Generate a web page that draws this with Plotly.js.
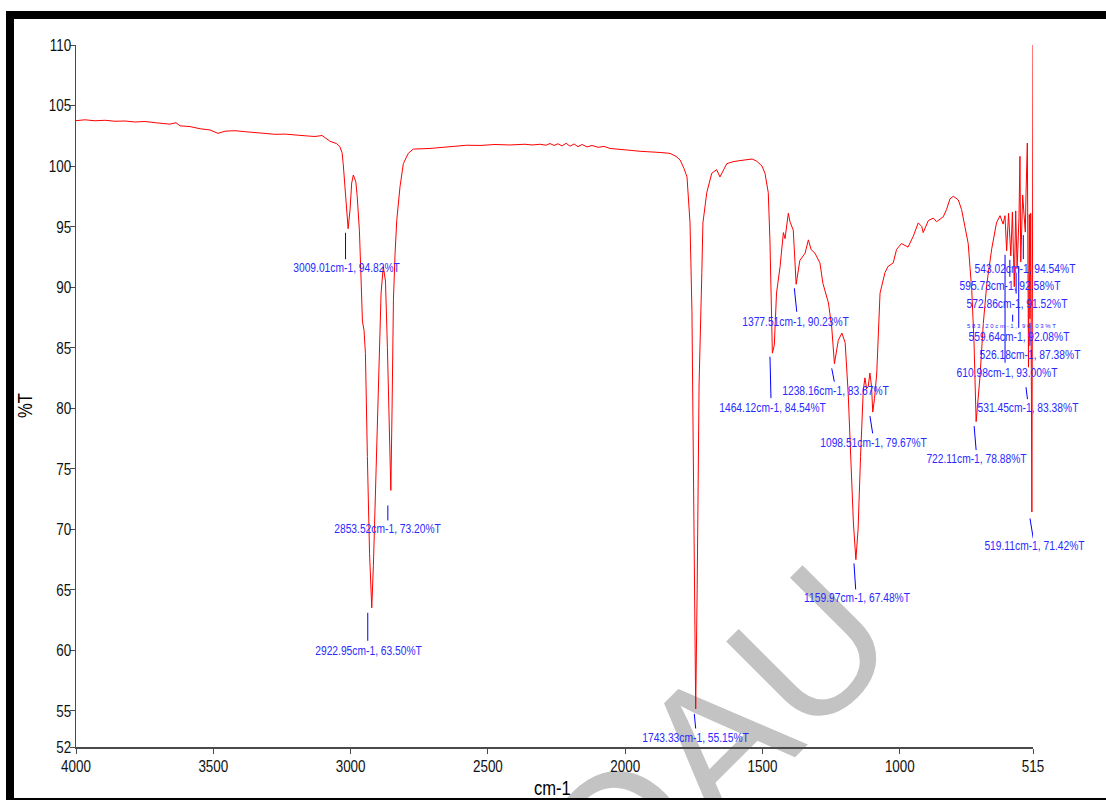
<!DOCTYPE html>
<html>
<head>
<meta charset="utf-8">
<script src="https://cdn.plot.ly/plotly-3.0.1.min.js"></script>
<style>
  html, body { margin: 0; padding: 0; background: #fff; }
  #wrap { position: relative; width: 1106px; height: 800px; overflow: hidden; background: #fff; }
  #frame { position: absolute; left: 6px; top: 11px; right: 0; bottom: 0;
           border-top: 8px solid #000; border-left: 8px solid #000; border-bottom: 2px solid #000; }
  #mark { position: absolute; left: 713px; top: 746px; transform: translate(-50%, -50%) rotate(-45deg);
          font-family: "Liberation Sans", Arial, sans-serif; font-size: 190px; line-height: 1;
          color: #c3c3c3; white-space: nowrap; }
  #chart { position: absolute; left: 0; top: 0; width: 1106px; height: 800px; }
</style>
</head>
<body>
<div id="wrap">
  <div id="mark">OAU</div>
  <div id="frame"></div>
  <div id="chart"></div>
</div>
<script>
// FTIR spectrum: wavenumber (cm-1) against transmittance (%T)
const wavenumber = [
  4000, 3967, 3931, 3894, 3858, 3822, 3785, 3749, 3712, 3683, 3658, 3636, 3621, 3585, 3548, 3512,
  3483, 3457, 3421, 3385, 3348, 3312, 3275, 3239, 3202, 3166, 3130, 3104, 3075, 3051, 3039, 3031,
  3027, 3020, 3014, 3009.01, 3002, 2996, 2990, 2981, 2976, 2968, 2963, 2957, 2951, 2946, 2939, 2931,
  2922.95, 2917, 2907, 2898, 2889, 2881, 2873, 2866, 2859, 2853.52, 2849, 2844, 2838, 2832, 2820, 2808,
  2790, 2772, 2711, 2650, 2577, 2529, 2474, 2420, 2365, 2339, 2310, 2288, 2274, 2259, 2245, 2230,
  2215, 2201, 2186, 2172, 2157, 2139, 2121, 2099, 2077, 2055, 2019, 1982, 1946, 1910, 1873, 1837,
  1815, 1800, 1786, 1775, 1764, 1757, 1750, 1743.33, 1738, 1731, 1721, 1717, 1703, 1685, 1667, 1655,
  1630, 1607, 1582, 1558, 1538, 1521, 1502, 1491, 1479, 1473, 1467, 1464.12, 1457, 1449, 1436, 1424,
  1418, 1406, 1400, 1394, 1388, 1377.51, 1364, 1345, 1333, 1323, 1309, 1291, 1280, 1260, 1248, 1238.16,
  1224, 1211, 1199, 1188, 1178, 1169, 1159.97, 1152, 1143, 1133, 1127, 1121, 1115, 1109, 1103, 1098.51,
  1092, 1084, 1072, 1054, 1043, 1024, 1012, 994, 970, 951, 933, 920, 915, 896, 878, 866,
  842, 830, 817, 805, 787, 775, 763, 751, 738, 730, 722.11, 708, 696, 683, 665, 648,
  635, 630, 624, 617, 610.98, 604, 595.73, 590, 583.20, 578, 572.86, 566, 562.5, 559.64, 552.5, 547.7,
  543.02, 540.4, 535.6, 531.45, 528.4, 526.18, 523.3, 519.11, 515
];
const transmittance = [
  103.75, 103.82, 103.74, 103.78, 103.70, 103.72, 103.64, 103.68, 103.58, 103.50, 103.46, 103.58, 103.32, 103.26, 103.08, 102.98,
  102.70, 102.88, 102.92, 102.84, 102.76, 102.66, 102.62, 102.64, 102.55, 102.50, 102.44, 102.52, 102.05, 101.85, 101.60, 101.10,
  100.20, 98.30, 96.60, 94.82, 96.40, 98.60, 99.26, 98.70, 97.50, 94.70, 91.40, 87.20, 86.40, 84.50, 76.00, 68.00,
  63.50, 67.00, 75.00, 83.50, 89.50, 91.70, 90.50, 85.00, 78.50, 73.20, 80.00, 89.00, 92.80, 95.50, 98.30, 100.20,
  101.05, 101.40, 101.45, 101.55, 101.72, 101.70, 101.78, 101.74, 101.80, 101.74, 101.80, 101.72, 101.86, 101.70, 101.84, 101.66,
  101.88, 101.64, 101.82, 101.60, 101.78, 101.58, 101.70, 101.55, 101.62, 101.45, 101.35, 101.30, 101.22, 101.20, 101.12, 101.05,
  100.80, 100.50, 99.80, 99.10, 95.30, 88.00, 70.00, 55.15, 65.00, 82.00, 91.20, 95.30, 97.80, 99.40, 99.70, 99.10,
  100.20, 100.36, 100.45, 100.50, 100.58, 100.40, 100.00, 99.40, 97.80, 93.90, 88.00, 84.54, 85.20, 89.50, 91.70, 94.50,
  94.00, 96.10, 95.40, 95.00, 94.70, 90.23, 92.20, 92.80, 93.90, 93.10, 92.80, 92.00, 90.30, 88.70, 86.70, 83.67,
  85.60, 86.20, 85.40, 81.20, 75.50, 70.50, 67.48, 70.00, 76.00, 81.50, 82.50, 81.60, 81.80, 82.90, 81.80, 79.67,
  80.80, 82.90, 89.50, 91.20, 91.70, 92.00, 93.10, 93.60, 93.30, 94.20, 95.30, 95.00, 94.50, 95.50, 95.70, 95.40,
  95.80, 96.40, 97.30, 97.50, 97.20, 96.40, 95.00, 93.60, 89.75, 85.60, 78.88, 82.60, 87.00, 90.30, 93.20, 95.30,
  95.90, 95.60, 95.20, 95.90, 93.00, 96.10, 92.58, 96.20, 90.03, 96.30, 91.52, 95.80, 100.80, 92.08, 97.60, 96.00,
  94.54, 97.70, 101.90, 83.38, 96.00, 87.38, 96.10, 71.42, 110.00
];

// Picked peaks
const peakWavenumber    = [3009.01, 2922.95, 2853.52, 1743.33, 1464.12, 1377.51, 1238.16, 1159.97, 1098.51, 722.11,
                           610.98, 595.73, 583.20, 572.86, 559.64, 543.02, 531.45, 526.18, 519.11];
const peakTransmittance = [94.82, 63.50, 73.20, 55.15, 84.54, 90.23, 83.67, 67.48, 79.67, 78.88,
                           93.00, 92.58, 90.03, 91.52, 92.08, 94.54, 83.38, 87.38, 71.42];

const xTickValues = [4000, 3500, 3000, 2500, 2000, 1500, 1000, 515];
const yTickValues = [52, 55, 60, 65, 70, 75, 80, 85, 90, 95, 100, 105, 110];

// Label placement in pixels, measured from the peak (y grows downwards):
// [text dx, text dy, leader x0, leader y0, leader x1, leader y1, font size]
const labelPlacement = [
  [-1.3, 39, -2.6, 4, -2.6, 30.5, 13],
  [-3, 43, -4, 5, -4, 33, 13],
  [-3, 38, -3, 15, -3, 30, 13],
  [0, 29, -1.4, 5, 0, 19.6, 13],
  [0.4, 54.6, -2.4, 3.6, -1.4, 45, 13],
  [-0.6, 37, -1.8, 4, 0.6, 27.5, 13],
  [1.4, 26.4, -2.7, 4.7, -0.1, 18, 13],
  [1, 38, -1.9, 3.8, -0.2, 29.8, 13],
  [1.2, 30.7, -2.8, 4, -0.1, 21.3, 13],
  [0.4, 36.4, -2, 4.4, 0, 28.4, 13],
  [0, 122, -1.6, 4, -1.6, 112, 13],
  [-0.8, 30, -1, 4, -1, 21, 13],
  [-3, 39.5, -1.6, 28, -1.6, 35, 6],
  [0, 34.5, -1, 4, -1, 25, 13],
  [-1.3, 75, -2, 4, -2, 66, 13],
  [-0.8, 36, -2, 3, -2, 27, 13],
  [-0.5, 40, -2.5, 20, -1, 32, 13],
  [0, 35.3, 0, 4, 0, 27, 13],
  [2.6, 34, -1.9, 6.5, 1.4, 26.5, 13]
];

const sans = 'Liberation Sans, Arial, sans-serif';
const labelBlue = '#2a2aff';
const condense = 0.79;   // narrow lettering

const annotations = [];
const shapes = [];
peakWavenumber.forEach((wn, i) => {
  const [dx, dy, lx0, ly0, lx1, ly1, size] = labelPlacement[i];
  let text = wn.toFixed(2) + 'cm-1, ' + peakTransmittance[i].toFixed(2) + '%T';
  if (size < 8) text = text.split('').join(' ');
  annotations.push({
    x: wn, y: peakTransmittance[i], xref: 'x', yref: 'y',
    text: text, showarrow: false, xanchor: 'center', yanchor: 'middle',
    xshift: dx, yshift: -dy,
    font: { family: sans, size: size, color: labelBlue }
  });
  shapes.push({
    type: 'line', xref: 'x', yref: 'y',
    xsizemode: 'pixel', ysizemode: 'pixel',
    xanchor: wn, yanchor: peakTransmittance[i],
    x0: lx0, x1: lx1, y0: -ly0, y1: -ly1,
    line: { color: '#0000ff', width: 1 }
  });
});

// Axis titles
annotations.push({
  xref: 'paper', yref: 'paper', x: 0.4984, y: -0.057, text: 'cm-1', showarrow: false,
  xanchor: 'center', yanchor: 'middle', font: { family: sans, size: 21, color: '#000' }
});
annotations.push({
  xref: 'paper', yref: 'paper', x: -0.0538, y: 0.486, text: '%T', showarrow: false, textangle: -90,
  xanchor: 'center', yanchor: 'middle', font: { family: sans, size: 21, color: '#000' }
});

const axisStyle = {
  showgrid: false, zeroline: false, showline: true, linecolor: '#4a4a4a', linewidth: 1.5,
  ticks: 'outside', ticklen: 5, tickcolor: '#4a4a4a', tickwidth: 1,
  tickfont: { family: sans, size: 17, color: '#111' }
};

const trace = {
  type: 'scatter', mode: 'lines', x: wavenumber, y: transmittance,
  line: { color: '#ff0000', width: 1 }, hoverinfo: 'skip'
};

const layout = {
  width: 1106, height: 800,
  margin: { l: 76, r: 73, t: 45, b: 53 },
  paper_bgcolor: 'rgba(0,0,0,0)', plot_bgcolor: 'rgba(0,0,0,0)',
  showlegend: false,
  xaxis: Object.assign({ range: [4000, 515], tickvals: xTickValues, ticktext: xTickValues.map(String),
                         ticklabelstandoff: -2 }, axisStyle),
  yaxis: Object.assign({ range: [52, 110], tickvals: yTickValues, ticktext: yTickValues.map(String),
                         ticklabelstandoff: -5 }, axisStyle),
  annotations: annotations,
  shapes: shapes
};

// Squeeze text horizontally about its anchor point to get a narrow face
function narrowText(gd) {
  gd.querySelectorAll('.annotation-text-g text, .xtick text, .ytick text').forEach(el => {
    const fs = parseFloat(el.style.fontSize || '12');
    if (fs < 8) return;
    const x = parseFloat(el.getAttribute('x')) || 0;
    const t = el.getAttribute('transform') || '';
    el.setAttribute('transform', t + ' translate(' + x + ',0) scale(' + condense + ',1) translate(' + (-x) + ',0)');
  });
}

Plotly.newPlot('chart', [trace], layout, { staticPlot: true, displayModeBar: false })
  .then(gd => narrowText(gd));
</script>
</body>
</html>
